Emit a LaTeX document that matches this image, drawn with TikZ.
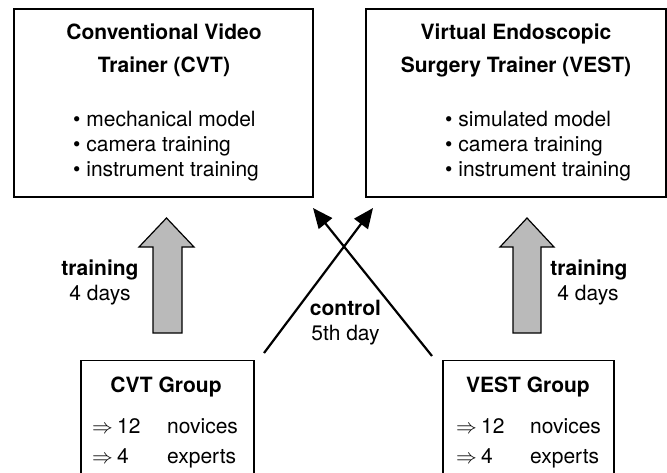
\documentclass[tikz,border=0pt]{standalone}
\usepackage{fontspec}
\setmainfont{TeX Gyre Heros}
\usetikzlibrary{arrows.meta}
\begin{document}
\begin{tikzpicture}[x=1pt,y=-1pt,
  txt/.style={inner sep=0pt,font=\fontsize{21}{25}\selectfont},
  head/.style={txt,font=\fontsize{21}{25}\selectfont\bfseries,anchor=base},
  item/.style={txt,anchor=base west},
  implies/.style={inner sep=0pt,anchor=base west,font=\fontsize{22}{25}\selectfont},
  lbl/.style={txt,anchor=base},
  frame/.style={draw=black,line width=1.4pt,inner sep=0pt},
  blockarrow/.style={draw=black,line width=1.2pt,fill=black!27,line join=miter},
  ctrl/.style={draw=black,line width=2.2pt,-{Triangle[length=20pt,width=17pt]}}]
\useasboundingbox (0,0) rectangle (667,472);
\clip (0,0) rectangle (667,472);

% trainer boxes
\node[frame,minimum width=299pt,minimum height=188pt] (cvt) at (163.5,103) {};
\node[frame,minimum width=300pt,minimum height=188pt] (vest) at (516,103) {};

\node[head] (cvtA) at (164,39) {Conventional Video};
\node[head] (cvtB) at (164,72) {Trainer (CVT)};
\node[item] (cvt1) at (73,126) {\textbullet\ mechanical model};
\node[item] (cvt2) at (73,151) {\textbullet\ camera training};
\node[item] (cvt3) at (73,176) {\textbullet\ instrument training};

\node[head] (vestA) at (516,39) {Virtual Endoscopic};
\node[head] (vestB) at (516,72) {Surgery Trainer (VEST)};
\node[item] (vest1) at (445,126) {\textbullet\ simulated model};
\node[item] (vest2) at (445,151) {\textbullet\ camera training};
\node[item] (vest3) at (445,176) {\textbullet\ instrument training};

% group boxes (continue past the lower edge)
\node[frame,anchor=north,minimum width=173pt,minimum height=160pt] (cvtgrp) at (167.5,360) {};
\node[frame,anchor=north,minimum width=171pt,minimum height=160pt] (vestgrp) at (528.5,360) {};

\node[head] (cvtgrpT) at (166,392) {CVT Group};
\node[implies] (cvtg1a) at (92,433) {$\Rightarrow$};
\node[item] (cvtg1b) at (117,433) {12};
\node[item] (cvtg1c) at (167,433) {novices};
\node[implies] (cvtg2a) at (92,463) {$\Rightarrow$};
\node[item] (cvtg2b) at (117,463) {4};
\node[item] (cvtg2c) at (167,463) {experts};

\node[head] (vestgrpT) at (528,392) {VEST Group};
\node[implies] (vestg1a) at (456,433) {$\Rightarrow$};
\node[item] (vestg1b) at (481,433) {12};
\node[item] (vestg1c) at (530,433) {novices};
\node[implies] (vestg2a) at (456,463) {$\Rightarrow$};
\node[item] (vestg2b) at (481,463) {4};
\node[item] (vestg2c) at (530,463) {experts};

% training block arrows
\draw[blockarrow] (153,333) -- (153,247) -- (139,247) -- (166.5,218) -- (194,247)
  -- (182,247) -- (182,333) -- cycle;
\draw[blockarrow] (513,333) -- (513,247) -- (500,247) -- (527,218) -- (554,247)
  -- (541,247) -- (541,333) -- cycle;

\node[head] (trL) at (100,275) {training};
\node[lbl] (trLd) at (100,300) {4 days};
\node[head] (trR) at (589,275) {training};
\node[lbl] (trRd) at (588,300) {4 days};

% crossing control arrows
\coordinate (cvtOut) at (264,353);
\coordinate (vestIn) at (373,208);
\coordinate (vestOut) at (432,356);
\coordinate (cvtIn) at (313,208);
\draw[ctrl] (cvtOut) -- (vestIn);
\draw[ctrl] (vestOut) -- (cvtIn);

\node[head] (ctl) at (345.5,315) {control};
\node[lbl] (ctld) at (345.5,340) {5th day};
\end{tikzpicture}
\end{document}
